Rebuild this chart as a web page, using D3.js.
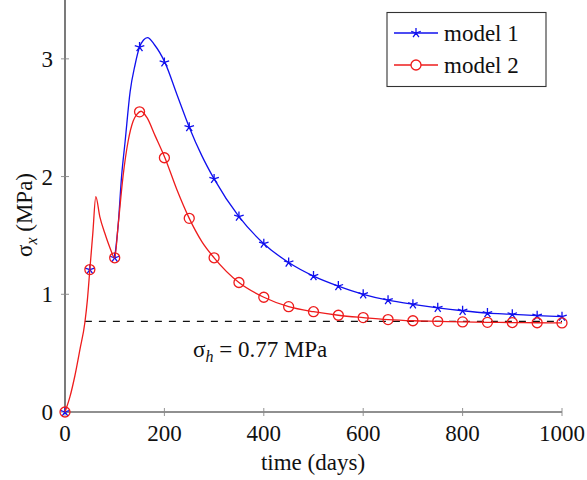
<!DOCTYPE html>
<html>
<head>
<meta charset="utf-8">
<script src="https://cdn.jsdelivr.net/npm/d3@7"></script>
<style>
  html, body { margin: 0; padding: 0; background: #fff; }
  svg { display: block; }
  svg text { font-family: "Liberation Serif", "Times New Roman", serif; }
</style>
</head>
<body>
<svg id="chart" width="587" height="480"></svg>
<script>
// ---- data ----
const markerDays = [0,50,100,150,200,250,300,350,400,450,500,550,600,650,700,750,800,850,900,950,1000];
const model1Markers = [0,1.21,1.31,3.10,2.97,2.42,1.98,1.66,1.43,1.27,1.155,1.07,1.00,0.95,0.915,0.885,0.86,0.84,0.83,0.818,0.81];
const model2Markers = [0,1.21,1.31,2.55,2.16,1.645,1.31,1.10,0.975,0.895,0.852,0.822,0.802,0.785,0.775,0.77,0.765,0.762,0.76,0.758,0.757];

// model 1 coincides with model 2 up to day 100 (hidden beneath it)
const model1LineDays = [100,107,114,121,131,141,150,158,166,180,201,225,250,275,300,350,400,450,500,550,600,650,700,750,800,850,900,950,1000];
const model1LineVals = [1.31,1.59,2.01,2.30,2.72,2.95,3.10,3.16,3.18,3.12,2.97,2.70,2.42,2.18,1.98,1.66,1.43,1.27,1.155,1.07,1.00,0.95,0.915,0.885,0.86,0.84,0.83,0.818,0.81];

const model2LineDays = [0,10,20,30,40,45,50,56,62,70,80,90,100,107,117,127,137,145,153,165,181,201,225,250,275,300,350,400,450,500,550,600,650,700,750,800,850,900,950,1000];
const model2LineVals = [0,0.13,0.31,0.53,0.76,0.95,1.21,1.52,1.83,1.66,1.52,1.40,1.31,1.59,2.01,2.30,2.47,2.53,2.555,2.50,2.35,2.16,1.89,1.645,1.45,1.31,1.10,0.975,0.895,0.852,0.822,0.802,0.785,0.775,0.77,0.765,0.762,0.76,0.758,0.757];

const xTicks = [0,200,400,600,800,1000];
const yTicks = [0,1,2,3];
const sigmaH = 0.77;
const sigmaHStart = 40;
const seriesNames = ["model 1","model 2"];
const seriesColors = ["#1010ee","#ee1c1c"];

// ---- scales ----
const svg = d3.select("#chart");
const x = d3.scaleLinear().domain([0,1000]).range([65,562]);
const y = d3.scaleLinear().domain([0,3.5]).range([412,0]);
const FS = 23;
const FF = "Liberation Serif";

// axes lines
svg.append("line").attr("x1",x(0)).attr("x2",x(0)).attr("y1",y(0)).attr("y2",y(3.5))
  .attr("stroke","#222").attr("stroke-width",1.2);
svg.append("line").attr("x1",x(0)).attr("x2",x(1000)).attr("y1",y(0)).attr("y2",y(0))
  .attr("stroke","#222").attr("stroke-width",1.2);

// ticks (crossing)
svg.selectAll(".xt").data(xTicks).enter().append("line")
  .attr("x1",d=>x(d)).attr("x2",d=>x(d)).attr("y1",y(0)-4).attr("y2",y(0)+4)
  .attr("stroke","#888").attr("stroke-width",0.9);
svg.selectAll(".yt").data(yTicks).enter().append("line")
  .attr("x1",x(0)-4).attr("x2",x(0)+4).attr("y1",d=>y(d)).attr("y2",d=>y(d))
  .attr("stroke","#888").attr("stroke-width",0.9);

// tick labels
svg.selectAll(".xl").data(xTicks).enter().append("text")
  .attr("x",d=>x(d)).attr("y",441).attr("text-anchor","middle").attr("fill","#111")
  .attr("font-family",FF).attr("font-size",FS).text(d=>d);
svg.selectAll(".yl").data(yTicks).enter().append("text")
  .attr("x",53).attr("y",d=>y(d)+8).attr("text-anchor","end").attr("fill","#111")
  .attr("font-family",FF).attr("font-size",FS).text(d=>d);

// axis titles
svg.append("text").attr("x",313).attr("y",470).attr("text-anchor","middle").attr("fill","#111")
  .attr("font-family",FF).attr("font-size",FS).text("time (days)");
const yl = svg.append("text").attr("transform","translate(32,215) rotate(-90)").attr("fill","#111")
  .attr("text-anchor","middle").attr("font-family",FF).attr("font-size",FS);
yl.append("tspan").text("σ");
yl.append("tspan").attr("font-style","italic").attr("font-size",16).attr("dy",5).text("x");
yl.append("tspan").attr("dy",-5).text(" (MPa)");

// dashed sigma_h line
svg.append("line").attr("x1",x(sigmaHStart)).attr("x2",x(1000)).attr("y1",y(sigmaH)).attr("y2",y(sigmaH))
  .attr("stroke","#111").attr("stroke-width",1.2).attr("stroke-dasharray","7,7");
const an = svg.append("text").attr("x",193).attr("y",357).attr("font-family",FF).attr("font-size",FS).attr("fill","#111");
an.append("tspan").text("σ");
an.append("tspan").attr("font-style","italic").attr("font-size",16).attr("dy",5).text("h");
an.append("tspan").attr("dy",-5).text(" = 0.77 MPa");

// line generator
const line = d3.line().x(d=>x(d[0])).y(d=>y(d[1])).curve(d3.curveMonotoneX);

// star marker path
function starPath(r){
  let p = "";
  for (let k=0;k<5;k++){
    const a = (-90 + 72*k) * Math.PI/180;
    p += `M0,0L${(r*Math.cos(a)).toFixed(2)},${(r*Math.sin(a)).toFixed(2)}`;
  }
  return p;
}

// model 1
const m1Line = model1LineDays.map((d,i)=>[d,model1LineVals[i]]);
svg.append("path").attr("d",line(m1Line)).attr("fill","none")
  .attr("stroke",seriesColors[0]).attr("stroke-width",1.3);
svg.selectAll(".m1").data(markerDays.map((d,i)=>[d,model1Markers[i]])).enter().append("path")
  .attr("transform",d=>`translate(${x(d[0])},${y(d[1])})`)
  .attr("d",starPath(5)).attr("stroke",seriesColors[0]).attr("stroke-width",1.3).attr("fill","none");

// model 2
const m2Line = model2LineDays.map((d,i)=>[d,model2LineVals[i]]);
svg.append("path").attr("d",line(m2Line)).attr("fill","none")
  .attr("stroke",seriesColors[1]).attr("stroke-width",1.3);
svg.selectAll(".m2").data(markerDays.map((d,i)=>[d,model2Markers[i]])).enter().append("circle")
  .attr("cx",d=>x(d[0])).attr("cy",d=>y(d[1])).attr("r",5)
  .attr("stroke",seriesColors[1]).attr("stroke-width",1.3).attr("fill","none");

// legend
const lg = svg.append("g");
lg.append("rect").attr("x",387).attr("y",12.5).attr("width",159).attr("height",74)
  .attr("fill","#fff").attr("stroke","#333").attr("stroke-width",1.1);
seriesNames.forEach((name,i)=>{
  const cy = 33 + i*32;
  lg.append("line").attr("x1",394).attr("x2",438).attr("y1",cy).attr("y2",cy)
    .attr("stroke",seriesColors[i]).attr("stroke-width",1.3);
  if (i===0) {
    lg.append("path").attr("transform",`translate(416,${cy})`).attr("d",starPath(5))
      .attr("stroke",seriesColors[i]).attr("stroke-width",1.3).attr("fill","none");
  } else {
    lg.append("circle").attr("cx",416).attr("cy",cy).attr("r",5)
      .attr("stroke",seriesColors[i]).attr("stroke-width",1.3).attr("fill","#fff");
  }
  lg.append("text").attr("x",444).attr("y",cy+8).attr("font-family",FF).attr("font-size",FS).attr("fill","#111").text(name);
});
</script>
</body>
</html>
